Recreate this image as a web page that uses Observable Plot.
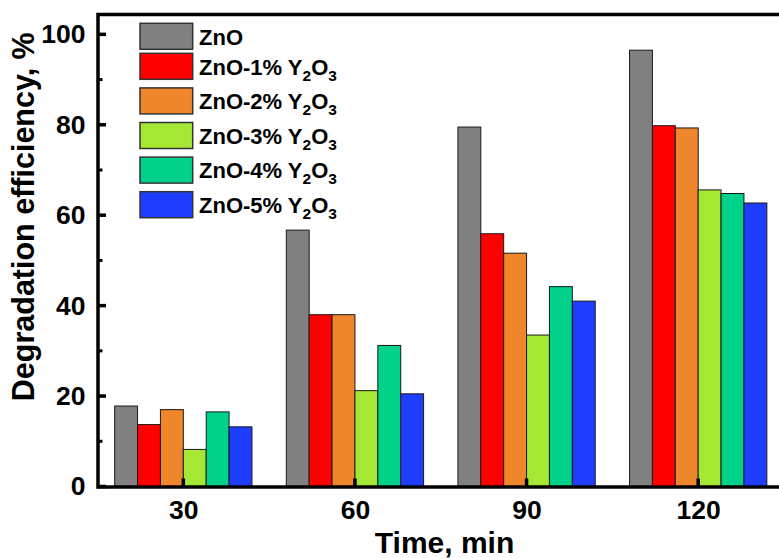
<!DOCTYPE html>
<html>
<head>
<meta charset="utf-8">
<script src="https://cdn.jsdelivr.net/npm/d3@7"></script>
<script src="https://cdn.jsdelivr.net/npm/@observablehq/plot@0.6"></script>
<style>
  html, body { margin: 0; padding: 0; background: #fff; overflow: hidden; }
  #chart { width: 779px; height: 558px; }
</style>
</head>
<body>
<div id="chart"></div>
<script>
// Irradiation times (min)
const times = [30, 60, 90, 120];

// Sample names (legend order) and fill colours
const seriesNames = ["ZnO", "ZnO-1% Y2O3", "ZnO-2% Y2O3", "ZnO-3% Y2O3", "ZnO-4% Y2O3", "ZnO-5% Y2O3"];
const seriesColors = ["#808080", "#ff0000", "#f0862c", "#a5e834", "#00d28a", "#1f3dff"];

// Degradation efficiency (%) at each time, one array per sample
const znO    = [17.8, 56.7, 79.5, 96.5];
const y2o3_1 = [13.7, 38.0, 55.9, 79.8];
const y2o3_2 = [17.0, 38.0, 51.6, 79.3];
const y2o3_3 = [8.2, 21.2, 33.5, 65.6];
const y2o3_4 = [16.5, 31.2, 44.2, 64.8];
const y2o3_5 = [13.2, 20.5, 41.0, 62.7];

// Axis ticks and titles
const yMajorTicks = [0, 20, 40, 60, 80, 100];
const yMinorTicks = [10, 30, 50, 70, 90];
const xTitle = "Time, min";
const yTitle = "Degradation efficiency, %";

const seriesValues = [znO, y2o3_1, y2o3_2, y2o3_3, y2o3_4, y2o3_5];

// Each time point gets a cluster of six adjacent bars, 4 min wide each
const barWidth = 4;
const rows = [];
seriesNames.forEach((name, i) => {
  times.forEach((t, j) => {
    const start = t - (seriesNames.length * barWidth) / 2 + i * barWidth;
    rows.push({series: name, time: t, x1: start, x2: start + barWidth, value: seriesValues[i][j]});
  });
});

const fontFamily = "'Liberation Sans', Arial, Helvetica, sans-serif";

// frame geometry and scale domains
const W = 779, H = 558;
const mLeft = 97.5, mRight = -5, mTop = 14, mBottom = 71.5;
const frameW = W - mLeft - mRight, frameH = H - mTop - mBottom;
const xDomain = [15, 135], yDomain = [0, 104.5];
const pxPerX = frameW / (xDomain[1] - xDomain[0]);
const pxPerY = frameH / (yDomain[1] - yDomain[0]);

// inward tick marks as small filled rectangles (sizes given in pixels)
const yTick = (ticks, len, thick) => Plot.rect(ticks, {
  x1: () => xDomain[0], x2: () => xDomain[0] + len / pxPerX,
  y1: d => d - thick / 2 / pxPerY, y2: d => d + thick / 2 / pxPerY,
  fill: "#000"
});
const xTick = (ticks, len, thick) => Plot.rect(ticks, {
  x1: d => d - thick / 2 / pxPerX, x2: d => d + thick / 2 / pxPerX,
  y1: () => yDomain[0], y2: () => yDomain[0] + len / pxPerY,
  fill: "#000"
});

const chart = Plot.plot({
  width: W,
  height: H,
  marginLeft: mLeft,
  marginRight: mRight,
  marginTop: mTop,
  marginBottom: mBottom,
  x: {domain: xDomain},
  y: {domain: yDomain},
  color: {domain: seriesNames, range: seriesColors},
  style: {fontFamily, fontWeight: "bold", color: "#000", background: "#fff", overflow: "hidden"},
  marks: [
    Plot.rectY(rows, {x1: "x1", x2: "x2", y: "value", fill: "series", stroke: "#1a1a1a", strokeWidth: 1}),
    // tick labels
    Plot.axisY({ticks: yMajorTicks, tickSize: 0, tickPadding: 12.5, fontSize: 26.5, label: null}),
    Plot.axisX({ticks: times, tickSize: 0, tickPadding: 13.5, fontSize: 26.5, label: null}),
    // ticks
    yTick(yMajorTicks, 8.5, 3.5),
    yTick(yMinorTicks, 5, 3),
    xTick(times, 8, 3.5),
    Plot.frame({stroke: "#000", strokeWidth: 3.5}),
    // axis titles
    Plot.text([yTitle], {text: d => d, frameAnchor: "left", rotate: -90, dx: -73.5, dy: -34,
      fontSize: 30.5, fontWeight: "bold", textAnchor: "middle", lineAnchor: "middle"}),
    Plot.text([xTitle], {text: d => d, frameAnchor: "bottom", dx: 3.25, dy: 56,
      fontSize: 30, fontWeight: "bold", textAnchor: "middle", lineAnchor: "middle"})
  ]
});

document.getElementById("chart").appendChild(chart);

// Legend inside the plot area, top-left, with chemical subscripts
const svg = d3.select(chart);
const legend = svg.append("g")
  .attr("font-family", fontFamily)
  .attr("font-weight", "bold")
  .attr("text-anchor", "start");

const swatchX = 140, swatchW = 52.7, swatchH = 26, textX = 199;
const rowTop = i => (i === 0 ? 23.3 : 53.3 + (i - 1) * 34.6);

seriesNames.forEach((name, i) => {
  const top = rowTop(i);
  legend.append("rect")
    .attr("x", swatchX).attr("y", top)
    .attr("width", swatchW).attr("height", swatchH)
    .attr("fill", seriesColors[i])
    .attr("stroke", "#333").attr("stroke-width", 1.5);

  const text = legend.append("text")
    .attr("x", textX).attr("y", top + 21.3)
    .attr("font-size", 22)
    .attr("fill", "#000");

  // "…Y2O3": render the digits as subscripts
  const m = name.match(/^(.*Y)(\d)(O)(\d)$/);
  if (m) {
    text.append("tspan").text(m[1]);
    text.append("tspan").attr("font-size", 15.5).attr("dy", 6).text(m[2]);
    text.append("tspan").attr("dy", -6).text(m[3]);
    text.append("tspan").attr("font-size", 15.5).attr("dy", 6).text(m[4]);
  } else {
    text.text(name);
  }
});
</script>
</body>
</html>
